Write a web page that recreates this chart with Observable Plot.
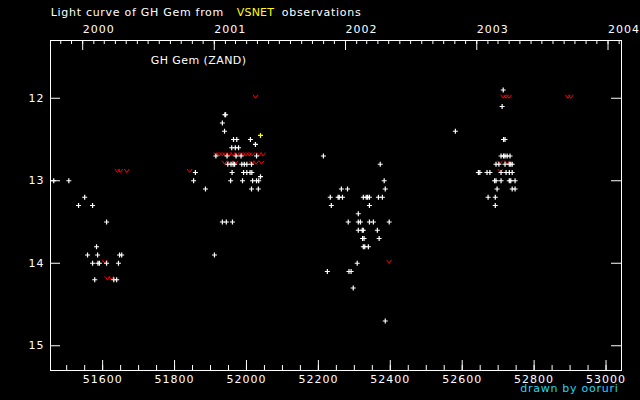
<!DOCTYPE html>
<html><head><meta charset="utf-8">
<script src="https://cdn.jsdelivr.net/npm/d3@7"></script>
<script src="https://cdn.jsdelivr.net/npm/@observablehq/plot@0.6"></script>
<style>
html,body{margin:0;padding:0;background:#000;}
#wrap{position:relative;width:640px;height:400px;overflow:hidden;background:#000;}
.lbl{position:absolute;font-family:"DejaVu Sans";font-size:11px;line-height:11px;white-space:nowrap;color:#fff;}
svg text{letter-spacing:1px;}
</style></head><body><div id="wrap"></div>
<script>
// ---- data (JD - 2400000, visual magnitude) ----
const obsJD = [
  51464,51506,51550,51533,51572,51611,51583,51558,51586,51647,51653,51572,51587,51591,51611,51644,51578,51631,51639,
  51940,51942,51933,51939,51964,51973,52011,51959,51969,51978,52025,51915,51946,51971,51985,52028,
  51948,51957,51963,51967,51987,51994,52001,52014,51858,51960,51992,52001,52010,52015,52039,
  51853,51956,51989,52017,52028,52034,51886,52014,52033,51933,51944,51961,51911,
  52214,52372,52383,52386,52264,52281,52233,52255,52258,52267,52325,52333,52337,52342,52367,52378,
  52236,52342,52311,52283,52311,52317,52342,52353,52397,52311,52322,52325,52364,52323,52327,52369,
  52325,52329,52339,52308,52225,52285,52291,52297,52386,
  52581,52714,52711,52715,52719,52708,52715,52719,52725,52733,52694,52702,52719,52731,52735,52739,
  52645,52649,52669,52677,52708,52722,52731,52739,52690,52694,52708,52731,52735,52747,52697,52739,52747,
  52672,52692,52692
];
const obsMag = [
  13.0,13.0,13.2,13.3,13.3,13.5,13.8,13.9,13.9,13.9,13.9,14.0,14.0,14.0,14.0,14.0,14.2,14.2,14.2,
  12.2,12.2,12.3,12.4,12.5,12.5,12.5,12.6,12.6,12.6,12.56,12.7,12.7,12.7,12.7,12.7,
  12.8,12.8,12.8,12.8,12.8,12.8,12.8,12.8,12.9,12.9,12.9,12.9,12.9,12.9,12.95,
  13.0,13.0,13.0,13.0,13.0,13.0,13.1,13.1,13.1,13.5,13.5,13.5,13.9,
  12.7,12.8,13.0,13.1,13.1,13.1,13.2,13.2,13.2,13.2,13.2,13.2,13.2,13.2,13.2,13.2,
  13.3,13.3,13.4,13.5,13.5,13.5,13.5,13.5,13.5,13.6,13.6,13.6,13.6,13.7,13.7,13.7,
  13.8,13.8,13.8,14.0,14.1,14.1,14.1,14.3,14.7,
  12.4,11.9,12.1,12.5,12.5,12.7,12.7,12.7,12.7,12.7,12.8,12.8,12.8,12.8,12.8,12.8,
  12.9,12.9,12.9,12.9,12.9,12.9,12.9,12.9,13.0,13.0,13.0,13.0,13.0,13.0,13.1,13.1,13.1,
  13.2,13.2,13.3
];
// "fainter than" upper limits
const limJD = [
  51606,51641,51649,51667,51613,51624,52025,51842,
  51916,51924,51933,51941,51952,51963,51974,51983,51991,51999,52008,52016,52035,52046,
  51939,51955,51969,52015,52027,52042,
  52397,52714,52722,52730,52894,52902,52705,52725,52706
];
const limMag = [
  14.0,12.9,12.9,12.9,14.2,14.2,12.0,12.9,
  12.7,12.7,12.7,12.7,12.7,12.7,12.7,12.7,12.7,12.7,12.7,12.7,12.7,12.7,
  12.8,12.8,12.8,12.8,12.8,12.8,
  14.0,12.0,12.0,12.0,12.0,12.0,12.8,12.8,12.9
];
// other-source estimate (yellow)
const yelJD = [52039];
const yelMag = [12.45];

// axis ticks
const xMajor = [51600,51800,52000,52200,52400,52600,52800,53000];
const xMinorStep = 50;
const yTicks = [12,13,14,15];
const years = [2000,2001,2002,2003,2004];

// ---- build ----
const W = 640, H = 400, mT = 40, mB = 30, mL = 50, mR = 19;
const fw = W - mL - mR, fh = H - mT - mB;
const jdOf = d => d.getTime() / 86400000 + 40587.5;
const xDomain = [51455, 53043];
const inX = v => v >= xDomain[0] && v <= xDomain[1];

const obs = obsJD.map((jd, i) => ({jd, mag: obsMag[i]}));
const lim = limJD.map((jd, i) => ({jd, mag: limMag[i]}));
const yel = yelJD.map((jd, i) => ({jd, mag: yelMag[i]}));

const xMinor = d3.range(51500, 53001, xMinorStep).filter(inX);
const yearTicks = years.map(y => ({year: y, jd: jdOf(new Date(Date.UTC(y, 0, 1)))}));
const monthTicks = d3.utcMonth.range(new Date(Date.UTC(1999, 8, 1)), new Date(Date.UTC(2004, 3, 1))).map(jdOf).filter(inX);

const plus = {draw(c) { c.moveTo(-2.5, 0); c.lineTo(2.5, 0); c.moveTo(0, -2.5); c.lineTo(0, 2.5); }};
const vee = {draw(c) { c.moveTo(-2.5, -3.5); c.lineTo(0, 0); c.lineTo(2.5, -3.5); }};

const chart = Plot.plot({
  width: W, height: H,
  marginTop: mT, marginBottom: mB, marginLeft: mL, marginRight: mR,
  style: {background: "black", color: "white", fontFamily: "DejaVu Sans", fontSize: "11px"},
  x: {type: "linear", domain: xDomain, axis: null},
  y: {type: "linear", domain: [11.3, 15.3], reverse: true, axis: null},
  marks: [
    Plot.frame({stroke: "white"}),
    // bottom ticks (inward)
    Plot.ruleX(xMinor, {x: d => d, insetTop: fh - 5, stroke: "white"}),
    Plot.ruleX(xMajor, {x: d => d, insetTop: fh - 10, stroke: "white"}),
    Plot.text(xMajor, {x: d => d, text: d => String(d), frameAnchor: "bottom", lineAnchor: "bottom", dy: 12, fill: "white", fontSize: 11}),
    // top ticks: months and years
    Plot.ruleX(monthTicks, {x: d => d, insetBottom: fh - 4, stroke: "white"}),
    Plot.ruleX(yearTicks, {x: "jd", insetBottom: fh - 10, stroke: "white"}),
    Plot.text(yearTicks, {x: "jd", text: d => String(d.year), frameAnchor: "top", lineAnchor: "bottom", textAnchor: "start", dy: -8, fill: "white", fontSize: 11}),
    // y ticks both sides
    Plot.ruleY(yTicks, {y: d => d, insetRight: fw - 10, stroke: "white"}),
    Plot.ruleY(yTicks, {y: d => d, insetLeft: fw - 10, stroke: "white"}),
    Plot.text(yTicks, {y: d => d, text: d => String(d), frameAnchor: "left", textAnchor: "end", dx: -6, fill: "white", fontSize: 11}),
    // data
    Plot.dot(lim, {x: "jd", y: "mag", symbol: vee, r: 3, fill: "none", stroke: "#ff0000", strokeWidth: 1}),
    Plot.dot(obs, {x: "jd", y: "mag", symbol: plus, r: 3, fill: "none", stroke: "white", strokeWidth: 1.2}),
    Plot.dot(yel, {x: "jd", y: "mag", symbol: plus, r: 3, fill: "none", stroke: "#ffff00", strokeWidth: 1.2})
  ]
});

const wrap = document.getElementById("wrap");
wrap.appendChild(chart);
// labels, letter-spaced to fit the widths seen in the reference
function lbl(text, left, top, color, targetWidth) {
  const s = document.createElement("div");
  s.className = "lbl";
  s.textContent = text;
  s.style.left = left + "px";
  s.style.top = top + "px";
  s.style.color = color;
  wrap.appendChild(s);
  const w = s.getBoundingClientRect().width;
  const n = Math.max(1, text.length - 1);
  s.style.letterSpacing = ((targetWidth - w) / n) + "px";
}
lbl("Light curve of GH Gem from", 50.7, 6.7, "#ffffff", 172.6);
lbl("VSNET", 236.7, 6.7, "#ffff00", 37.3);
lbl("observations", 281.7, 6.7, "#ffffff", 79);
lbl("GH Gem (ZAND)", 150.7, 54.7, "#ffffff", 95.3);
lbl("drawn by ooruri", 520.3, 383, "#22d4f4", 97.4);
</script></body></html>
